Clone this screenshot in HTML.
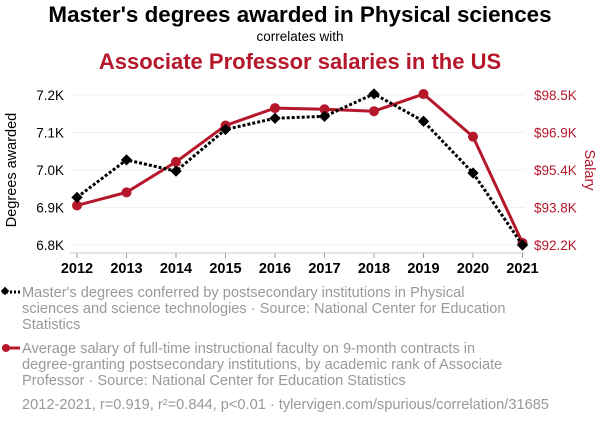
<!DOCTYPE html>
<html><head><meta charset="utf-8"><style>
body{margin:0;background:#fff;width:600px;height:424px;overflow:hidden;font-family:"Liberation Sans",sans-serif}
</style></head><body>
<svg width="600" height="424" xmlns="http://www.w3.org/2000/svg" style="font-family:'Liberation Sans',sans-serif">
<text x="300" y="22" text-anchor="middle" font-size="22.4" font-weight="bold" fill="#000">Master's degrees awarded in Physical sciences</text>
<text x="300" y="41" text-anchor="middle" font-size="13.5" fill="#000">correlates with</text>
<text x="300" y="69" text-anchor="middle" font-size="22" font-weight="bold" fill="#b5172b">Associate Professor salaries in the US</text>
<g id="grid"></g>
<g id="axes"></g>
<g id="series"></g>
<text transform="translate(16,170) rotate(-90)" text-anchor="middle" font-size="14.5" fill="#000">Degrees awarded</text>
<text transform="translate(585,170) rotate(90)" text-anchor="middle" font-size="14.5" fill="#b5172b">Salary</text>
<g>
<line x1="2" y1="292" x2="20" y2="292" stroke="#000" stroke-width="3" stroke-dasharray="2,2"/>
<rect x="2" y="288" width="6" height="6" transform="rotate(45 5 291)" fill="#000"/>
<text font-size="14.6" fill="#999"><tspan x="22" y="297">Master's degrees conferred by postsecondary institutions in Physical</tspan><tspan x="22" y="313">sciences and science technologies · Source: National Center for Education</tspan><tspan x="22" y="329">Statistics</tspan></text>
</g>
<g>
<line x1="2" y1="348" x2="20" y2="348" stroke="#b5172b" stroke-width="3"/>
<circle cx="6" cy="348" r="4" fill="#b5172b"/>
<text font-size="14.6" fill="#999"><tspan x="22" y="353">Average salary of full-time instructional faculty on 9-month contracts in</tspan><tspan x="22" y="369">degree-granting postsecondary institutions, by academic rank of Associate</tspan><tspan x="22" y="385">Professor · Source: National Center for Education Statistics</tspan></text>
</g>
<text x="22" y="409" font-size="14.6" fill="#999">2012-2021, r=0.919, r²=0.844, p&lt;0.01 · tylervigen.com/spurious/correlation/31685</text>
</svg>
<script>
const years=[2012,2013,2014,2015,2016,2017,2018,2019,2020,2021];
const degrees=[6.927,7.027,6.997,7.108,7.138,7.143,7.203,7.130,6.992,6.800];
const salary=[93.86,94.41,95.69,97.22,97.95,97.90,97.82,98.54,96.75,92.29];
const leftTicks=[6.8,6.9,7.0,7.1,7.2];
const leftTickLabels=["6.8K","6.9K","7.0K","7.1K","7.2K"];
const rightTicks=[92.2,93.775,95.35,96.925,98.5];
const rightTickLabels=["$92.2K","$93.8K","$95.4K","$96.9K","$98.5K"];
const NS="http://www.w3.org/2000/svg";
const x=y=>77+(y-2012)*49.5;
const yl=v=>95+(7.2-v)/0.4*150;
const yr=v=>95+(98.5-v)/6.3*150;
function mk(t,a,p){const e=document.createElementNS(NS,t);for(const k in a)e.setAttribute(k,a[k]);document.getElementById(p).appendChild(e);return e;}
leftTicks.forEach((t,i)=>{
 const g=mk('line',{x1:70,x2:525,y1:yl(t),y2:yl(t),stroke:'#f0f0f0','stroke-width':1},'grid');
 
 
 const l=mk('text',{x:64,y:yl(t)+5,'text-anchor':'end','font-size':13.5,fill:'#000'},'axes');l.textContent=leftTickLabels[i];
 
 
});
rightTicks.forEach((t,i)=>{
 const l=mk('text',{x:534,y:yr(t)+5,'font-size':13.5,fill:'#b5172b'},'axes');l.textContent=rightTickLabels[i];
 
 
});
const ax=mk('line',{x1:70,x2:525,y1:253,y2:253,stroke:'#ccc'},'axes');


years.forEach(yv=>{
 mk('line',{x1:x(yv),x2:x(yv),y1:253,y2:258,stroke:'#999'},'axes');
 const l=mk('text',{x:x(yv),y:273,'text-anchor':'middle','font-size':14.5,'font-weight':'bold',fill:'#000'},'axes');l.textContent=yv;
 
 
});
const rp=mk('polyline',{points:years.map((y,i)=>x(y)+','+yr(salary[i])).join(' '),fill:'none',stroke:'#b5172b','stroke-width':3},'series');


years.forEach((y,i)=>{const c=mk('circle',{cx:x(y),cy:yr(salary[i]),r:5,fill:'#b5172b'},'series');
 
 });
const bp=mk('polyline',{points:years.map((y,i)=>x(y)+','+yl(degrees[i])).join(' '),fill:'none',stroke:'#000','stroke-width':3,'stroke-dasharray':'3,2'},'series');


years.forEach((y,i)=>{const cx=x(y),cy=yl(degrees[i]);const r=mk('rect',{x:cx-4,y:cy-4,width:8,height:8,fill:'#000',transform:`rotate(45 ${cx} ${cy})`},'series');
 
 });
</script>
</body></html>
